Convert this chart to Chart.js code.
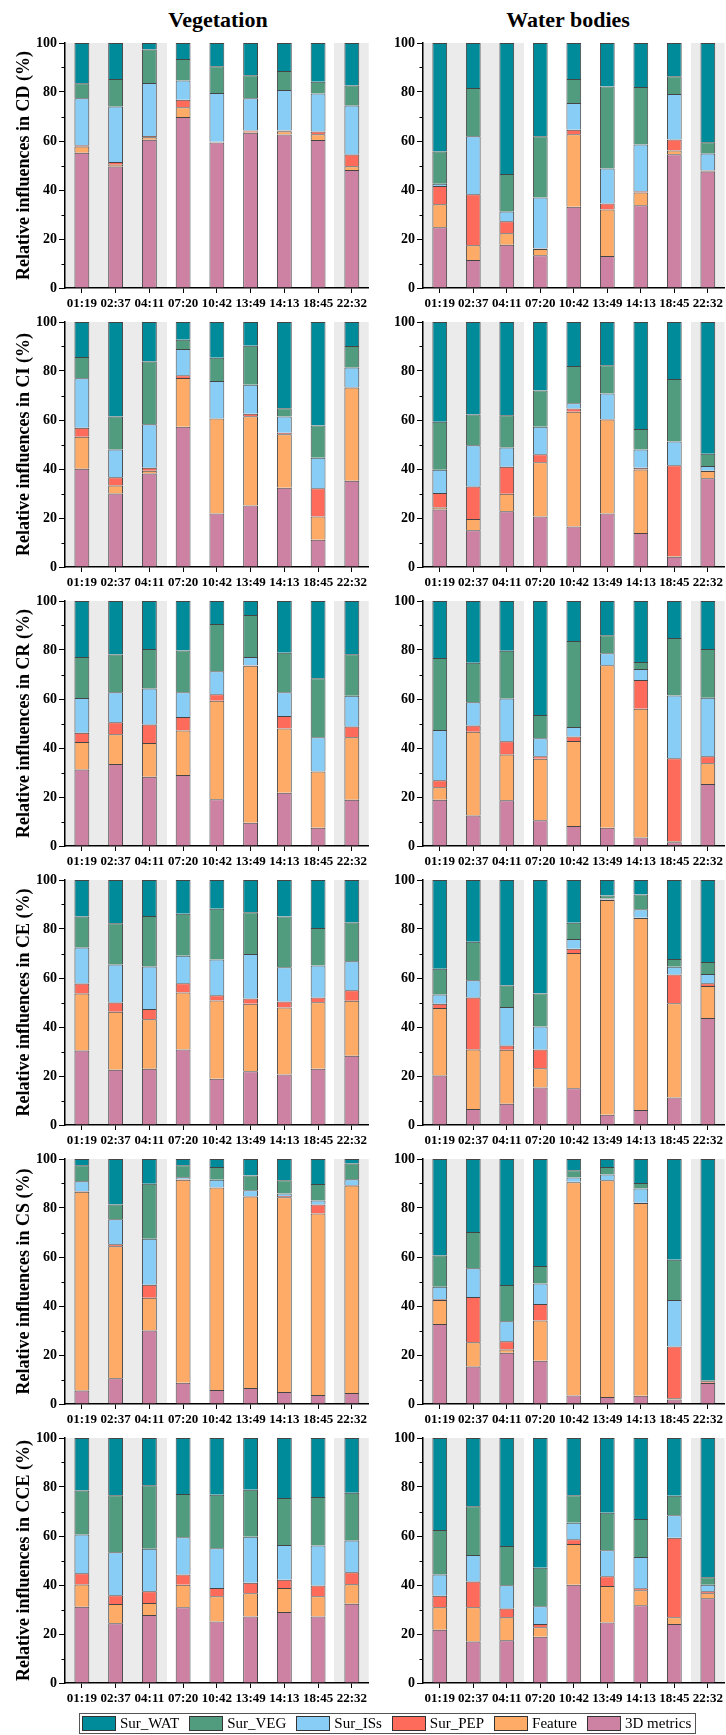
<!DOCTYPE html>
<html>
<head>
<meta charset="utf-8">
<title>Relative influences by time of day</title>
<script src="https://cdn.jsdelivr.net/npm/chart.js@4.4.1/dist/chart.umd.min.js"></script>
<style>
  html, body { margin: 0; padding: 0; background: #fff; }
  #page {
    position: relative; width: 726px; height: 1735px; overflow: hidden;
    font-family: "Liberation Serif", "Times New Roman", serif; color: #000;
  }
  #page canvas { position: absolute; }
  .col-title {
    position: absolute; top: 7px; line-height: 26px; font-size: 22px; font-weight: bold;
    transform: translateX(-50%); white-space: nowrap;
  }
  #legend {
    position: absolute; left: 79px; top: 1713px; height: 21px; box-sizing: border-box;
    border: 1px solid #555; display: flex; align-items: center;
    padding: 0 4px 0 2px; gap: 10px; font-size: 15px; line-height: 15px;
  }
  #legend .item { display: flex; align-items: center; white-space: nowrap; }
  #legend .item i {
    display: inline-block; width: 34px; height: 15px; box-sizing: border-box;
    border: 1px solid #333; margin-right: 4px;
  }
</style>
</head>
<body>
<div id="page"></div>
<script>
// ---- categories, series, ticks ----
const TIMES = ['01:19', '02:37', '04:11', '07:20', '10:42', '13:49', '14:13', '18:45', '22:32'];
const SHADED_TIMES = ['01:19', '02:37', '04:11', '22:32'];          // night-time observations
const SERIES_NAMES = ['3D metrics', 'Feature', 'Sur_PEP', 'Sur_ISs', 'Sur_VEG', 'Sur_WAT']; // bottom to top
const METRICS = ['CD', 'CI', 'CR', 'CE', 'CS', 'CCE'];
const COLUMN_TITLES = ['Vegetation', 'Water bodies'];
const Y_TICKS_MAJOR = [0, 20, 40, 60, 80, 100];
const Y_TICKS_MINOR = [10, 30, 50, 70, 90];

// ---- CD ----
const cdVeg3d      = [55.2, 49.6, 60.5, 69.8, 59.4, 63.4, 62.7, 60.4, 48.2];
const cdVegFeature = [2.6, 0.7, 1.0, 4.0, 0.1, 0.4, 1.3, 2.4, 1.5];
const cdVegPep     = [0.5, 1.1, 0.5, 3.0, 0.2, 0.5, 0.3, 1.1, 4.8];
const cdVegIss     = [19.1, 22.7, 21.7, 7.9, 19.9, 13.2, 16.5, 15.5, 20.0];
const cdVegVeg     = [6.2, 11.2, 13.6, 8.8, 10.9, 9.3, 7.8, 4.8, 8.2];
const cdVegWat     = [16.4, 14.7, 2.7, 6.5, 9.5, 13.2, 11.4, 15.8, 17.3];

const cdWat3d      = [24.8, 11.4, 17.7, 13.4, 33.2, 13.1, 33.8, 54.6, 47.6];
const cdWatFeature = [9.4, 6.0, 4.6, 2.5, 29.6, 18.9, 5.2, 1.5, 0.2];
const cdWatPep     = [7.4, 20.9, 4.9, 0.2, 1.8, 2.5, 0.5, 4.5, 0.2];
const cdWatIss     = [1.0, 23.6, 4.0, 20.8, 10.9, 14.3, 19.1, 18.6, 6.9];
const cdWatVeg     = [13.1, 19.7, 15.3, 25.0, 9.8, 33.4, 23.4, 7.2, 4.6];
const cdWatWat     = [44.3, 18.4, 53.5, 38.1, 14.7, 17.8, 18.0, 13.6, 40.5];

// ---- CI ----
const ciVeg3d      = [40.1, 30.0, 38.2, 57.2, 21.8, 25.1, 32.3, 11.1, 35.2];
const ciVegFeature = [13.1, 3.3, 1.1, 19.9, 38.8, 36.4, 21.9, 9.5, 38.1];
const ciVegPep     = [3.6, 3.3, 1.2, 1.2, 0.1, 1.1, 0.6, 11.5, 0.1];
const ciVegIss     = [20.2, 11.4, 17.8, 10.7, 15.2, 11.8, 6.6, 12.5, 8.0];
const ciVegVeg     = [8.7, 13.4, 25.6, 3.8, 9.5, 15.9, 3.4, 13.2, 8.8];
const ciVegWat     = [14.3, 38.6, 16.1, 7.2, 14.6, 9.7, 35.2, 42.2, 9.8];

const ciWat3d      = [23.5, 15.0, 22.8, 20.6, 16.5, 21.8, 13.9, 4.2, 36.2];
const ciWatFeature = [0.8, 4.6, 7.1, 22.2, 46.9, 38.4, 25.9, 0.3, 3.0];
const ciWatPep     = [5.9, 13.3, 11.0, 3.2, 1.3, 0.2, 0.7, 37.0, 0.1];
const ciWatIss     = [9.5, 16.8, 7.9, 11.2, 2.1, 10.4, 7.5, 9.7, 1.9];
const ciWatVeg     = [19.6, 12.5, 13.1, 14.8, 15.2, 11.5, 8.3, 25.5, 5.0];
const ciWatWat     = [40.7, 37.8, 38.1, 28.0, 18.0, 17.7, 43.7, 23.3, 53.8];

// ---- CR ----
const crVeg3d      = [31.2, 33.5, 28.3, 29.0, 19.1, 9.5, 21.7, 7.5, 18.9];
const crVegFeature = [11.2, 12.1, 13.7, 18.1, 40.2, 64.1, 26.3, 22.9, 25.5];
const crVegPep     = [3.8, 4.9, 7.6, 5.6, 2.6, 0.2, 5.1, 0.1, 4.4];
const crVegIss     = [14.2, 12.3, 14.7, 10.1, 9.4, 3.3, 9.7, 13.9, 12.5];
const crVegVeg     = [16.7, 15.4, 16.1, 17.0, 19.3, 17.2, 16.1, 24.1, 17.0];
const crVegWat     = [22.9, 21.8, 19.6, 20.2, 9.4, 5.7, 21.1, 31.5, 21.7];

const crWat3d      = [18.9, 12.4, 18.7, 10.5, 8.2, 7.5, 3.5, 1.5, 25.3];
const crWatFeature = [5.1, 34.2, 18.6, 25.1, 34.7, 66.3, 52.5, 0.4, 8.5];
const crWatPep     = [2.8, 2.6, 5.5, 1.0, 1.8, 0.1, 11.8, 33.9, 2.8];
const crWatIss     = [20.5, 9.5, 17.4, 7.4, 3.9, 4.8, 4.4, 25.6, 23.9];
const crWatVeg     = [29.4, 16.1, 19.5, 9.5, 35.1, 7.3, 2.9, 23.5, 19.9];
const crWatWat     = [23.3, 25.2, 20.3, 46.5, 16.3, 14.0, 24.9, 15.1, 19.6];

// ---- CE ----
const ceVeg3d      = [30.4, 22.6, 23.0, 30.8, 18.9, 21.9, 20.6, 23.0, 28.3];
const ceVegFeature = [23.3, 23.6, 20.2, 23.3, 31.9, 27.6, 27.4, 27.1, 22.4];
const ceVegPep     = [4.1, 3.8, 4.1, 3.8, 2.2, 2.1, 2.4, 1.9, 4.3];
const ceVegIss     = [14.7, 15.5, 17.4, 11.2, 14.6, 18.2, 14.0, 13.1, 11.8];
const ceVegVeg     = [12.6, 16.8, 20.6, 17.1, 20.7, 17.0, 20.7, 15.3, 15.9];
const ceVegWat     = [14.9, 17.7, 14.7, 13.8, 11.7, 13.2, 14.9, 19.6, 17.3];

const ceWat3d      = [20.2, 6.5, 8.7, 15.3, 15.0, 4.2, 6.1, 11.2, 43.7];
const ceWatFeature = [27.6, 24.3, 22.0, 7.9, 55.2, 87.6, 78.4, 38.5, 13.0];
const ceWatPep     = [1.7, 21.2, 1.7, 7.6, 1.7, 0.2, 0.1, 11.7, 1.2];
const ceWatIss     = [3.8, 7.1, 15.8, 9.4, 4.0, 0.5, 3.5, 3.2, 3.7];
const ceWatVeg     = [10.5, 15.7, 8.7, 13.5, 6.7, 1.2, 6.0, 3.2, 4.9];
const ceWatWat     = [36.2, 25.2, 43.1, 46.3, 17.4, 6.3, 5.9, 32.2, 33.5];

// ---- CS ----
const csVeg3d      = [5.5, 10.5, 30.0, 8.7, 5.7, 6.5, 4.9, 3.7, 4.5];
const csVegFeature = [81.1, 53.9, 13.4, 82.8, 82.7, 78.2, 79.5, 74.1, 84.7];
const csVegPep     = [0.2, 0.8, 5.3, 0.2, 0.1, 0.2, 0.5, 3.6, 0.2];
const csVegIss     = [4.1, 10.2, 18.8, 0.9, 3.0, 2.3, 1.0, 1.7, 2.3];
const csVegVeg     = [6.5, 6.0, 22.4, 4.8, 5.2, 6.1, 5.4, 6.7, 6.5];
const csVegWat     = [2.6, 18.6, 10.1, 2.6, 3.3, 6.7, 8.7, 10.2, 1.8];

const csWat3d      = [32.7, 15.3, 20.9, 17.7, 3.5, 2.9, 3.4, 1.8, 8.6];
const csWatFeature = [9.7, 9.9, 1.3, 16.4, 87.0, 88.4, 78.6, 0.5, 0.1];
const csWatPep     = [0.4, 18.5, 3.4, 6.7, 0.2, 0.1, 0.1, 21.2, 0.6];
const csWatIss     = [5.1, 11.7, 8.2, 8.4, 1.7, 2.3, 5.9, 18.9, 0.1];
const csWatVeg     = [12.7, 14.8, 14.8, 7.1, 3.0, 3.0, 2.2, 16.5, 0.3];
const csWatWat     = [39.4, 29.8, 51.4, 43.7, 4.6, 3.3, 9.8, 41.1, 90.3];

// ---- CCE ----
const cceVeg3d      = [31.1, 24.4, 27.8, 30.9, 25.1, 27.1, 29.0, 27.1, 32.3];
const cceVegFeature = [9.1, 7.8, 4.9, 9.2, 10.3, 9.5, 9.8, 8.3, 8.0];
const cceVegPep     = [4.6, 3.6, 4.8, 4.2, 3.4, 4.3, 3.3, 4.4, 4.9];
const cceVegIss     = [15.8, 17.6, 17.3, 15.2, 16.2, 18.8, 14.2, 16.3, 13.0];
const cceVegVeg     = [18.0, 23.2, 25.9, 17.6, 21.8, 19.2, 19.2, 19.8, 19.5];
const cceVegWat     = [21.4, 23.4, 19.3, 22.9, 23.2, 21.1, 24.5, 24.1, 22.3];

const cceWat3d      = [21.7, 16.9, 17.4, 18.9, 40.1, 24.7, 31.7, 24.1, 34.6];
const cceWatFeature = [9.2, 14.0, 9.4, 3.9, 16.6, 14.9, 6.2, 2.7, 2.0];
const cceWatPep     = [4.7, 10.5, 3.6, 1.3, 2.0, 4.0, 0.8, 32.5, 0.9];
const cceWatIss     = [8.7, 10.8, 9.5, 7.2, 6.7, 10.6, 12.7, 9.2, 2.6];
const cceWatVeg     = [18.2, 19.9, 16.0, 15.7, 11.2, 15.3, 15.5, 7.9, 3.1];
const cceWatWat     = [37.5, 27.9, 44.1, 53.0, 23.4, 30.5, 33.1, 23.6, 56.8];

// panel table: metric -> [vegetation series, water-body series], each bottom-to-top
const PANELS = {
  CD:  [[cdVeg3d, cdVegFeature, cdVegPep, cdVegIss, cdVegVeg, cdVegWat],
        [cdWat3d, cdWatFeature, cdWatPep, cdWatIss, cdWatVeg, cdWatWat]],
  CI:  [[ciVeg3d, ciVegFeature, ciVegPep, ciVegIss, ciVegVeg, ciVegWat],
        [ciWat3d, ciWatFeature, ciWatPep, ciWatIss, ciWatVeg, ciWatWat]],
  CR:  [[crVeg3d, crVegFeature, crVegPep, crVegIss, crVegVeg, crVegWat],
        [crWat3d, crWatFeature, crWatPep, crWatIss, crWatVeg, crWatWat]],
  CE:  [[ceVeg3d, ceVegFeature, ceVegPep, ceVegIss, ceVegVeg, ceVegWat],
        [ceWat3d, ceWatFeature, ceWatPep, ceWatIss, ceWatVeg, ceWatWat]],
  CS:  [[csVeg3d, csVegFeature, csVegPep, csVegIss, csVegVeg, csVegWat],
        [csWat3d, csWatFeature, csWatPep, csWatIss, csWatVeg, csWatWat]],
  CCE: [[cceVeg3d, cceVegFeature, cceVegPep, cceVegIss, cceVegVeg, cceVegWat],
        [cceWat3d, cceWatFeature, cceWatPep, cceWatIss, cceWatVeg, cceWatWat]]
};

// ---- styling ----
const SERIES_COLORS = ['#cd82a4', '#fdab67', '#fe6b5a', '#88cdf5', '#519b7f', '#008b9b'];
const BAR_EDGE = '#454545';
const BAND_COLOR = '#ebebeb';
const SERIF = "'Liberation Serif', 'Times New Roman', serif";

Chart.defaults.font.family = SERIF;
Chart.defaults.color = '#000';

// shaded night-time columns behind the bars
const nightBands = {
  id: 'nightBands',
  beforeDraw(chart) {
    const x = chart.scales.x, a = chart.chartArea, ctx = chart.ctx;
    const half = (x.getPixelForValue(1) - x.getPixelForValue(0)) / 2;
    ctx.save();
    ctx.fillStyle = BAND_COLOR;
    TIMES.forEach((t, i) => {
      if (!SHADED_TIMES.includes(t)) return;
      const l = Math.max(a.left, Math.floor(x.getPixelForValue(i) - half));
      const r = Math.min(a.right, Math.ceil(x.getPixelForValue(i) + half));
      ctx.fillRect(l, a.top, r - l, a.bottom - a.top);
    });
    ctx.restore();
  }
};

// short minor ticks on the value axis
const minorTicks = {
  id: 'minorTicks',
  afterDraw(chart) {
    const y = chart.scales.y, ctx = chart.ctx;
    ctx.save();
    ctx.strokeStyle = '#000';
    ctx.lineWidth = 1;
    Y_TICKS_MINOR.forEach(v => {
      const py = Math.round(y.getPixelForValue(v)) + 0.5;
      ctx.beginPath();
      ctx.moveTo(y.right - 3.5, py);
      ctx.lineTo(y.right, py);
      ctx.stroke();
    });
    ctx.restore();
  }
};

function makePanel(canvas, series, axisWidth, yTitle) {
  return new Chart(canvas, {
    type: 'bar',
    data: {
      labels: TIMES,
      datasets: SERIES_NAMES.map((name, k) => ({
        label: name,
        data: series[k],
        backgroundColor: SERIES_COLORS[k],
        borderColor: BAR_EDGE,
        // one edge line per segment boundary: outline sides and the top of each segment
        borderWidth: { top: 1, right: 1, bottom: 0, left: 1 },
        borderSkipped: false,
        barPercentage: 0.44,
        categoryPercentage: 1
      }))
    },
    options: {
      responsive: false,
      animation: false,
      devicePixelRatio: 1,
      events: [],
      layout: { padding: { top: 12, left: 0, right: 0, bottom: 0 } },
      plugins: { legend: { display: false }, tooltip: { enabled: false } },
      scales: {
        x: {
          stacked: true,
          grid: { display: true, drawOnChartArea: false, offset: false, tickLength: 5, color: '#000', lineWidth: 1 },
          border: { display: true, color: '#000', width: 1.5 },
          ticks: { font: { size: 13, weight: 'bold' }, color: '#000', padding: 3, maxRotation: 0, autoSkip: false },
          afterFit: s => { s.height = 23; }
        },
        y: {
          stacked: true,
          min: 0,
          max: 100,
          afterBuildTicks: s => { s.ticks = Y_TICKS_MAJOR.map(v => ({ value: v })); },
          ticks: { font: { size: 14, weight: 'bold' }, color: '#000', padding: 2 },
          grid: { display: true, drawOnChartArea: false, tickLength: 6, color: '#000', lineWidth: 1 },
          border: { display: true, color: '#000', width: 1.5 },
          title: {
            display: !!yTitle,
            text: yTitle || '',
            font: { size: 18, weight: 'bold' },
            color: '#000',
            padding: { top: 14, bottom: 0 }
          },
          afterFit: s => { s.width = axisWidth; }
        }
      }
    },
    plugins: [nightBands, minorTicks]
  });
}

const page = document.getElementById('page');

// column headings
[218, 568].forEach((cx, i) => {
  const d = document.createElement('div');
  d.className = 'col-title';
  d.style.left = cx + 'px';
  d.textContent = COLUMN_TITLES[i];
  page.appendChild(d);
});

// 6 x 2 grid of panels
const ROW_TOP = 43, ROW_PITCH = 279, CANVAS_H = 280;
const COLS = [ { left: 0, width: 370, axis: 65 }, { left: 370, width: 356, axis: 53 } ];
METRICS.forEach((m, row) => {
  COLS.forEach((col, c) => {
    const cv = document.createElement('canvas');
    cv.width = col.width;
    cv.height = CANVAS_H;
    cv.style.left = col.left + 'px';
    cv.style.top = (ROW_TOP + ROW_PITCH * row - 12) + 'px';
    cv.style.width = col.width + 'px';
    cv.style.height = CANVAS_H + 'px';
    page.appendChild(cv);
    makePanel(cv, PANELS[m][c], col.axis, c === 0 ? `Relative influences in ${m} (%)` : null);
  });
});

// legend, top-to-bottom stack order
const legend = document.createElement('div');
legend.id = 'legend';
SERIES_NAMES.map((n, k) => k).reverse().forEach(k => {
  const it = document.createElement('span');
  it.className = 'item';
  const sw = document.createElement('i');
  sw.style.background = SERIES_COLORS[k];
  it.appendChild(sw);
  it.appendChild(document.createTextNode(SERIES_NAMES[k]));
  legend.appendChild(it);
});
page.appendChild(legend);
</script>
</body>
</html>
